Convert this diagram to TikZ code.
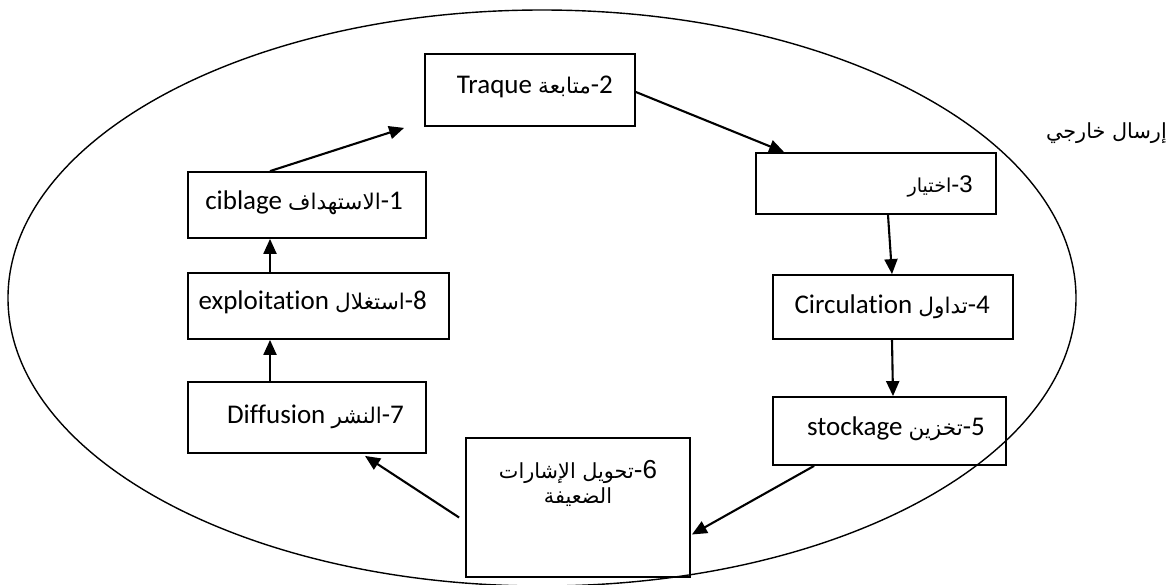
\documentclass[tikz,border=0pt]{standalone}
\usepackage{fontspec}
\setmainfont{Carlito}[Ligatures=NoCommon]
\newfontfamily\arabicfont[Script=Arabic,Scale=0.8]{DejaVu Sans}
\newfontfamily\arialfont{Liberation Sans}
\TeXXeTstate=1
\usetikzlibrary{arrows.meta}
% an Arabic word or phrase, set right to left
\newcommand\arb[1]{{\arabicfont\beginR #1\endR}}

\begin{document}
\begin{tikzpicture}[x=1pt,y=-1pt,
  stage/.style={draw, line width=1.8pt, inner sep=0pt},
  lbl/.style={anchor=base east, inner sep=0pt, font=\fontsize{27}{32}\selectfont},
  albl/.style={anchor=base east, inner sep=0pt, font=\arialfont\fontsize{24}{28}\selectfont},
  flow/.style={line width=2.1pt, -{Triangle[length=15pt,width=13pt]}}]

\useasboundingbox (0,0) rectangle (1174,584);

% outer cycle
\begin{scope}
  \clip (0,0) rectangle (1174,584);
  \draw[line width=1.4pt] (542,298) ellipse [x radius=534pt, y radius=288pt];
\end{scope}

% stage boxes
\node[stage, minimum width=238pt, minimum height=66pt]  (b1) at (307,205)   {};
\node[stage, minimum width=210pt, minimum height=72pt]  (b2) at (530,90)    {};
\node[stage, minimum width=240pt, minimum height=61pt]  (b3) at (876,183.5) {};
\node[stage, minimum width=240pt, minimum height=64pt]  (b4) at (893,307)   {};
\node[stage, minimum width=233pt, minimum height=68pt]  (b5) at (889.5,431) {};
\node[stage, minimum width=224pt, minimum height=139pt] (b6) at (578,507.5) {};
\node[stage, minimum width=238pt, minimum height=71pt]  (b7) at (307,417.5) {};
\node[stage, minimum width=261pt, minimum height=66pt]  (b8) at (318.5,306) {};

% stage labels
\node[lbl]  (t1) at (403,209) {ciblage \arb{الاستهداف}-1};
\node[lbl]  (t2) at (613,93)  {Traque \arb{متابعة}-2};
\node[albl] (t3) at (973,192) {\arb{اختيار}-3};
\node[lbl]  (t4) at (990,313) {Circulation \arb{تداول}-4};
\node[lbl]  (t5) at (985,435) {stockage \arb{تخزين}-5};
\node[albl, anchor=base, font=\arialfont\fontsize{26}{30}\selectfont] (t6a) at (578,478) {\arb{تحويل الإشارات}-6};
\node[albl, anchor=base, font=\arialfont\fontsize{26}{30}\selectfont] (t6b) at (578,503) {\arb{الضعيفة}};
\node[lbl]  (t7) at (404,423) {Diffusion \arb{النشر}-7};
\node[lbl]  (t8) at (427,309) {exploitation \arb{استغلال}-8};

% outside label
\node[anchor=base east, inner sep=0pt, font=\fontsize{26}{30}\selectfont] (ext) at (1167,138) {\arb{إرسال خارجي}};

% cycle connectors
\draw[flow] ([xshift=-37pt]b1.north) -- ([xshift=-20pt,yshift=-1pt]b2.south west);
\draw[flow] ([yshift=-2pt]b2.east) -- ([xshift=29pt]b3.north west);
\draw[flow] ([xshift=12pt]b3.south) -- ([xshift=-1pt]b4.north);
\draw[flow] ([xshift=-1pt]b4.south) -- ([xshift=3.5pt]b5.north);
\draw[flow] ([xshift=42pt]b5.south west) -- ([xshift=1pt,yshift=-27pt]b6.east);
\draw[flow] ([xshift=-6pt,yshift=-10pt]b6.west) -- ([xshift=58pt,yshift=-2pt]b7.south);
\draw[flow] ([xshift=-37pt]b7.north) -- ([xshift=-48.5pt]b8.south);
\draw[flow] ([xshift=-48.5pt]b8.north) -- ([xshift=-37pt]b1.south);
\end{tikzpicture}
\end{document}
